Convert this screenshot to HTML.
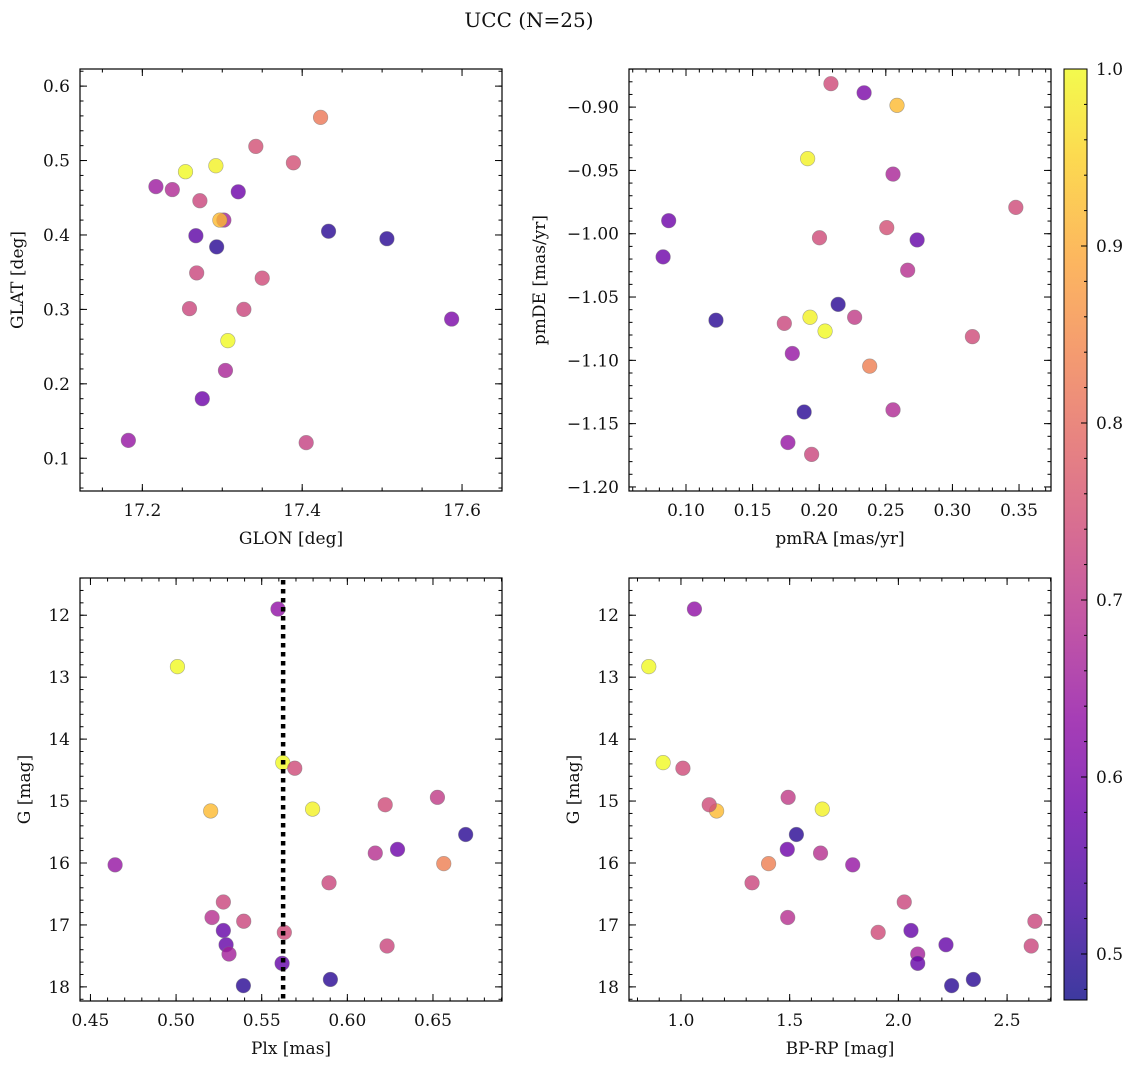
<!DOCTYPE html>
<html><head><meta charset="utf-8">
<style>
html,body{margin:0;padding:0;background:#fff;}
svg text{font-family:"DejaVu Serif","Liberation Serif",serif;fill:#111;}
</style></head>
<body>
<svg id="fig" width="1136" height="1068" viewBox="0 0 1136 1068" xmlns="http://www.w3.org/2000/svg">
<text x="529" y="27" font-size="20" text-anchor="middle">UCC (N=25)</text>
</svg>
<script>
// Panel 1 data
const glon = [17.423,17.342,17.389,17.254,17.292,17.217,17.2375,17.272,17.320,17.302,17.297,17.267,17.293,17.433,17.506,17.268,17.350,17.259,17.327,17.587,17.307,17.304,17.275,17.1825,17.405];
const glat = [0.558,0.519,0.497,0.485,0.493,0.465,0.461,0.446,0.458,0.420,0.420,0.399,0.384,0.405,0.395,0.349,0.342,0.301,0.300,0.287,0.258,0.218,0.180,0.124,0.121];
const probPos = [0.82,0.75,0.75,1.0,0.99,0.65,0.68,0.73,0.58,0.66,0.92,0.56,0.5,0.5,0.5,0.73,0.74,0.73,0.73,0.6,1.0,0.67,0.58,0.64,0.72];
// Panel 2 data
const pmra = [0.2088,0.2337,0.2584,0.1913,0.2554,0.3476,0.0870,0.2507,0.2002,0.2735,0.0828,0.2664,0.2142,0.1225,0.1931,0.1738,0.2266,0.2044,0.3150,0.1798,0.2379,0.1887,0.2554,0.1765,0.1943];
const pmde = [-0.8815,-0.8887,-0.8986,-0.9407,-0.9529,-0.9792,-0.9897,-0.9952,-1.0032,-1.0049,-1.0183,-1.0288,-1.0558,-1.0683,-1.0660,-1.0708,-1.0660,-1.0769,-1.0813,-1.0946,-1.1046,-1.1408,-1.1391,-1.1649,-1.1743];
const probPM = [0.74,0.6,0.92,0.99,0.67,0.74,0.58,0.75,0.74,0.57,0.58,0.69,0.5,0.5,0.99,0.73,0.71,1.0,0.74,0.64,0.83,0.5,0.68,0.64,0.73];
// Panels 3 & 4 data
const gmag = [11.90,12.83,14.38,14.47,15.16,15.13,15.06,14.94,15.54,15.78,15.84,16.01,16.03,16.32,16.63,16.88,16.94,17.09,17.12,17.32,17.47,17.34,17.62,17.88,17.98];
const plx = [0.5595,0.5008,0.5623,0.5693,0.5202,0.5797,0.6221,0.6526,0.6691,0.6293,0.6163,0.6563,0.4644,0.5893,0.5276,0.5210,0.5395,0.5276,0.5632,0.5292,0.5309,0.6232,0.5619,0.5901,0.5393];
const bprp = [1.062,0.852,0.918,1.009,1.164,1.650,1.130,1.493,1.531,1.489,1.642,1.403,1.790,1.327,2.027,1.491,2.628,2.058,1.907,2.219,2.089,2.611,2.089,2.345,2.245];
const probCMD = [0.63,1.0,1.0,0.74,0.92,0.99,0.74,0.71,0.5,0.58,0.69,0.83,0.64,0.73,0.73,0.69,0.73,0.57,0.74,0.57,0.66,0.73,0.57,0.5,0.5];
const plxLine = [0.5625];
const cbTicks = [0.5,0.6,0.7,0.8,0.9,1.0];

const NS="http://www.w3.org/2000/svg";
const svg=document.getElementById('fig');
function mk(tag,attrs,parent){const e=document.createElementNS(NS,tag);for(const k in attrs)e.setAttribute(k,attrs[k]);(parent||svg).appendChild(e);return e;}
const stops=[[13,8,135],[65,4,157],[106,0,168],[143,13,164],[177,42,144],[204,71,120],[225,100,98],[242,132,75],[252,166,54],[252,206,37],[240,249,33]];
const VMIN=0.474,VMAX=1.0;
function plasma(t){t=Math.max(0,Math.min(1,t));const f=t*10;const i=Math.min(9,Math.floor(f));const r=f-i;const a=stops[i],b=stops[i+1];
return 'rgb('+[0,1,2].map(k=>Math.round(a[k]+(b[k]-a[k])*r)).join(',')+')';}
function pcol(p){return plasma((p-VMIN)/(VMAX-VMIN));}
function fmt(v,d){let s=v.toFixed(d);if(v<0)s='\u2212'+s.slice(1);return s;}

function panel(name,box,xr,yr,xMaj,xMin,yMaj,yMin,xd,yd,xlab,ylab,yOff,xs,ys,ps){
  const [L,T,R,B]=box;
  const X=v=>L+(v-xr[0])/(xr[1]-xr[0])*(R-L);
  const Y=v=>T+(yr[1]-v)/(yr[1]-yr[0])*(B-T);
  const g=mk('g',{});
  
  
  const eps=1e-9;
  const tick=(vals,len,isX)=>{for(const v of vals){
    if(isX){const x=X(v);if(x<L-0.5||x>R+0.5)continue;mk('line',{x1:x,x2:x,y1:B,y2:B-len,stroke:'#000','stroke-width':1},g);mk('line',{x1:x,x2:x,y1:T,y2:T+len,stroke:'#000','stroke-width':1},g);}
    else{const y=Y(v);if(y<T-0.5||y>B+0.5)continue;mk('line',{x1:L,x2:L+len,y1:y,y2:y,stroke:'#000','stroke-width':1},g);mk('line',{x1:R,x2:R-len,y1:y,y2:y,stroke:'#000','stroke-width':1},g);}
  }};
  const range=(a0,b0,s)=>{const a=Math.min(a0,b0),b=Math.max(a0,b0);const out=[];const st=Math.ceil(a/s-eps);const en=Math.floor(b/s+eps);for(let i=st;i<=en;i++)out.push(+(i*s).toFixed(6));return out;};
  const xM=range(xr[0],xr[1],xMaj), xm=range(xr[0],xr[1],xMin);
  const yM=range(yr[0],yr[1],yMaj), ym=range(yr[0],yr[1],yMin);
  tick(xm,3.5,true);tick(xM,7,true);tick(ym,3.5,false);tick(yM,7,false);
  for(const v of xM){const t=mk('text',{x:X(v),y:B+25,'font-size':17,'text-anchor':'middle'},g);t.textContent=fmt(v,xd);
    
    }
  for(const v of yM){const t=mk('text',{x:L-10,y:Y(v)+6,'font-size':17,'text-anchor':'end'},g);t.textContent=fmt(v,yd);
    
    }
  const xt=mk('text',{x:(L+R)/2,y:B+53,'font-size':17,'text-anchor':'middle'},g);xt.textContent=xlab;
  
  
  const yt=mk('text',{x:0,y:0,'font-size':17,'text-anchor':'middle',transform:`translate(${L-yOff},${(T+B)/2}) rotate(-90)`},g);yt.textContent=ylab;
  
  
  for(let i=0;i<xs.length;i++){
    const c=mk('circle',{cx:X(xs[i]),cy:Y(ys[i]),r:7.3,fill:pcol(ps[i]),'fill-opacity':0.8,stroke:'#777','stroke-opacity':0.6,'stroke-width':0.6},g);
    
    
  }
  mk('rect',{x:L,y:T,width:R-L,height:B-T,fill:'none',stroke:'#000','stroke-width':1.2},g);
  return {X,Y,g};
}

panel('glon-glat-panel',[80,69,502,491],[17.122,17.650],[0.056,0.623],0.2,0.05,0.1,0.02,1,1,'GLON [deg]','GLAT [deg]',57,glon,glat,probPos);
panel('pm-panel',[629,69,1051,491],[0.0572,0.374],[-1.2032,-0.8699],0.05,0.01,0.05,0.01,2,2,'pmRA [mas/yr]','pmDE [mas/yr]',84,pmra,pmde,probPM);
const p3=panel('plx-g-panel',[80,578,502,1001],[0.4439,0.6903],[18.228,11.399],0.05,0.01,1,0.2,2,0,'Plx [mas]','G [mag]',50,plx,gmag,probCMD);
panel('cmd-panel',[629,578,1051,1001],[0.761,2.702],[18.228,11.399],0.5,0.1,1,0.2,1,0,'BP-RP [mag]','G [mag]',50,bprp,gmag,probCMD);
for(const v of plxLine){
  const ln=mk('line',{x1:p3.X(v),x2:p3.X(v),y1:580,y2:1001,stroke:'#000','stroke-width':4.5,'stroke-dasharray':'4.5 4.5'},p3.g);
  
  
}
// colorbar
const defs=mk('defs',{});
const grad=mk('linearGradient',{id:'cbg',x1:0,y1:1,x2:0,y2:0},defs);
for(let i=0;i<=20;i++){mk('stop',{offset:i/20,'stop-color':plasma(i/20),'stop-opacity':0.8},grad);}
const cbT=69,cbB=1000,cbL=1064,cbR=1087;
const cb=mk('g',{});


mk('rect',{x:cbL,y:cbT,width:cbR-cbL,height:cbB-cbT,fill:'url(#cbg)',stroke:'#000','stroke-width':1},cb);
const CY=v=>cbB-(v-VMIN)/(VMAX-VMIN)*(cbB-cbT);
for(let v=0.48;v<=1.0001;v+=0.02){const y=CY(v);mk('line',{x1:cbR,x2:cbR-3,y1:y,y2:y,stroke:'#000'},cb);}
for(const v of cbTicks){const y=CY(v);mk('line',{x1:cbR,x2:cbR-6,y1:y,y2:y,stroke:'#000'},cb);
  const t=mk('text',{x:1096,y:y+6,'font-size':17},cb);t.textContent=v.toFixed(1);
  
  }
</script>
</body></html>
